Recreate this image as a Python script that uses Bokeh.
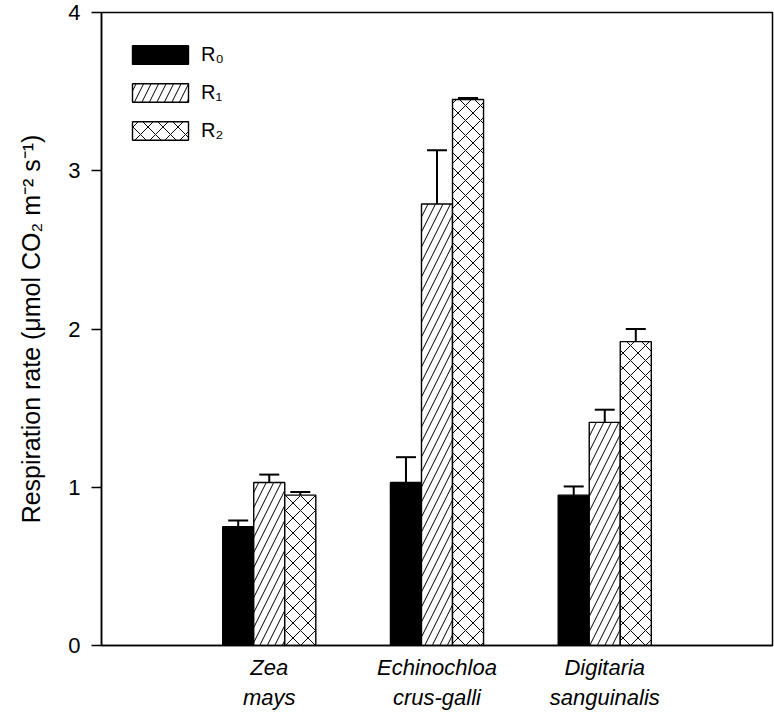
from bokeh.plotting import figure
from bokeh.models import ColumnDataSource, Whisker, Legend, LegendItem, FixedTicker, TeeHead, Range1d
from bokeh.embed import file_html
from bokeh.resources import INLINE

# ---- data ----
species = ["Zea\nmays", "Echinochloa\ncrus-galli", "Digitaria\nsanguinalis"]
r0 = [0.75, 1.03, 0.95]
r0_err = [0.04, 0.16, 0.055]
r1 = [1.03, 2.79, 1.41]
r1_err = [0.05, 0.34, 0.08]
r2 = [0.95, 3.45, 1.92]
r2_err = [0.02, 0.01, 0.08]
series_labels = ["R\u2080", "R\u2081", "R\u2082"]
y_ticks = [0, 1, 2, 3, 4]

FONT = "Liberation Sans"
positions = [1, 2, 3]
bar_w = 0.185
offsets = [-bar_w, 0.0, bar_w]

p = figure(width=774, height=712, output_backend="svg", toolbar_location=None,
           x_range=Range1d(0, 4), y_range=Range1d(0, 4),
           min_border_left=101, min_border_right=2, min_border_top=12, min_border_bottom=66)
p.grid.visible = False
p.outline_line_color = "black"
p.outline_line_width = 1.5
p.background_fill_color = "white"
p.border_fill_color = "white"

styles = [
    dict(fill_color="black", hatch_pattern=None),
    dict(fill_color="white", hatch_pattern="/", hatch_color="black", hatch_scale=15, hatch_weight=1),
    dict(fill_color="white", hatch_pattern="x", hatch_color="black", hatch_scale=15, hatch_weight=1),
]
vals = [r0, r1, r2]
errs = [r0_err, r1_err, r2_err]
items = []
for i in range(3):
    xs = [pos + offsets[i] for pos in positions]
    src = ColumnDataSource(dict(x=xs, top=vals[i], upper=[v + e for v, e in zip(vals[i], errs[i])]))
    st = dict(styles[i])
    hp = st.pop("hatch_pattern")
    kw = dict(x="x", top="top", width=bar_w, source=src, line_color="black", line_width=1.4, **st)
    if hp:
        kw["hatch_pattern"] = hp
    r = p.vbar(**kw)
    items.append(LegendItem(label=series_labels[i], renderers=[r]))
    w = Whisker(base="x", lower="top", upper="upper", source=src, dimension="height",
                line_color="black", line_width=2,
                upper_head=TeeHead(size=20, line_color="black", line_width=2), lower_head=None)
    p.add_layout(w)

legend = Legend(items=items, location=(24, 503), border_line_color=None,
                background_fill_alpha=0, glyph_width=70, glyph_height=23,
                label_height=24, spacing=14, margin=0, padding=0,
                label_text_font=FONT, label_text_font_size="20px", label_text_color="black",
                label_standoff=6)
p.add_layout(legend)

# axes
p.yaxis.ticker = FixedTicker(ticks=y_ticks)
p.yaxis.minor_tick_line_color = None
p.yaxis.major_tick_in = 0
p.yaxis.major_tick_out = 10
p.yaxis.major_tick_line_width = 1.4
p.yaxis.axis_line_width = 1.5
p.yaxis.major_label_text_font = FONT
p.yaxis.major_label_text_font_size = "22px"
p.yaxis.major_label_text_color = "black"
p.yaxis.major_label_standoff = 11
p.yaxis.axis_label = "Respiration rate (\u03bcmol CO\u2082 m\u207b\u00b2 s\u207b\u00b9)"
p.yaxis.axis_label_text_font = FONT
p.yaxis.axis_label_text_font_size = "25px"
p.yaxis.axis_label_text_font_style = "normal"
p.yaxis.axis_label_text_color = "black"
p.yaxis.axis_label_standoff = 20

p.xaxis.ticker = FixedTicker(ticks=positions)
p.xaxis.major_label_overrides = {pos: lab for pos, lab in zip(positions, species)}
p.xaxis.major_tick_in = 0
p.xaxis.major_tick_out = 0
p.xaxis.minor_tick_line_color = None
p.xaxis.axis_line_width = 1.5
p.xaxis.major_label_text_font = FONT
p.xaxis.major_label_text_font_size = "22px"
p.xaxis.major_label_text_font_style = "italic"
p.xaxis.major_label_text_color = "black"
p.xaxis.major_label_standoff = 9

open("out.html", "w").write(file_html(p, INLINE))
